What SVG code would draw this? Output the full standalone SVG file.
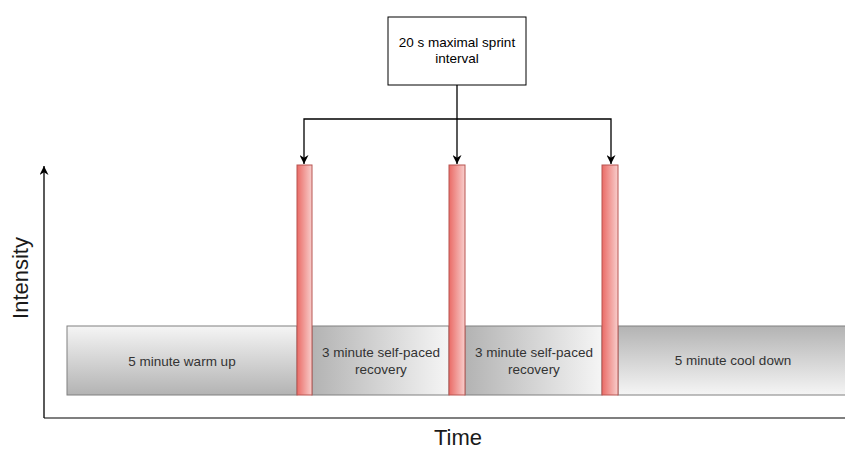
<svg xmlns="http://www.w3.org/2000/svg" width="845" height="450" viewBox="0 0 845 450">
<style>
  .lbl { font-family: "Liberation Sans", Arial, sans-serif; font-size: 13.5px; fill: #333333; text-anchor: middle; }
  .axis-lbl { font-family: "Liberation Sans", Arial, sans-serif; font-size: 22px; fill: #1a1a1a; text-anchor: middle; }
  .phase { stroke: #808080; stroke-width: 1; }
  .bar { fill: url(#gRed); stroke: #b85450; stroke-width: 1; }
  .conn { fill: none; stroke: #000000; stroke-width: 1.3; }
  .axis { fill: none; stroke: #555555; stroke-width: 1.6; }
</style>
<defs>
  <linearGradient id="gDown" x1="0" y1="0" x2="0" y2="1">
    <stop offset="0" stop-color="#f5f5f5"/>
    <stop offset="1" stop-color="#b3b3b3"/>
  </linearGradient>
  <linearGradient id="gUp" x1="0" y1="0" x2="0" y2="1">
    <stop offset="0" stop-color="#b3b3b3"/>
    <stop offset="1" stop-color="#f5f5f5"/>
  </linearGradient>
  <linearGradient id="gRight" x1="0" y1="0" x2="1" y2="0">
    <stop offset="0" stop-color="#b3b3b3"/>
    <stop offset="1" stop-color="#f5f5f5"/>
  </linearGradient>
  <linearGradient id="gRed" x1="0" y1="0" x2="1" y2="0">
    <stop offset="0" stop-color="#ea6b66"/>
    <stop offset="1" stop-color="#f8cecc"/>
  </linearGradient>
  <marker id="arr" viewBox="0 0 10 10" refX="10" refY="5" markerWidth="9" markerHeight="9" markerUnits="userSpaceOnUse" orient="auto">
    <path d="M0,0 L10,5 L0,10 L3,5 Z" fill="#000000"/>
  </marker>
</defs>
<rect width="845" height="450" fill="#ffffff"/>

<g id="axes">
  <path class="axis" d="M44,418 L845,418"/>
  <path d="M44,418 L44,166" fill="none" stroke="#000000" stroke-width="1.3" marker-end="url(#arr)"/>
  <text class="axis-lbl" x="21" y="278" transform="rotate(-90 21 278)" dy="7">Intensity</text>
  <text class="axis-lbl" x="458" y="445">Time</text>
</g>

<g id="warmup">
  <rect class="phase" x="67" y="326" width="230" height="69" fill="url(#gDown)"/>
  <text class="lbl" x="182" y="366">5 minute warm up</text>
</g>
<g id="recovery1">
  <rect class="phase" x="312" y="326" width="137" height="69" fill="url(#gRight)"/>
  <text class="lbl" x="381" y="357">3 minute self-paced</text>
  <text class="lbl" x="381" y="374">recovery</text>
</g>
<g id="recovery2">
  <rect class="phase" x="465" y="326" width="137" height="69" fill="url(#gRight)"/>
  <text class="lbl" x="534" y="357">3 minute self-paced</text>
  <text class="lbl" x="534" y="374">recovery</text>
</g>
<g id="cooldown">
  <rect class="phase" x="618" y="326" width="230" height="69" fill="url(#gUp)"/>
  <text class="lbl" x="733" y="365">5 minute cool down</text>
</g>

<g id="sprint1"><rect class="bar" x="297" y="165" width="15" height="230"/></g>
<g id="sprint2"><rect class="bar" x="449" y="165" width="16" height="230"/></g>
<g id="sprint3"><rect class="bar" x="602" y="165" width="16" height="230"/></g>

<g id="sprintBox">
  <rect x="388" y="17" width="138" height="68" fill="#ffffff" stroke="#000000" stroke-width="1"/>
  <text class="lbl" x="457" y="47" style="fill:#000000">20 s maximal sprint</text>
  <text class="lbl" x="457" y="63" style="fill:#000000">interval</text>
</g>

<g id="connectors">
  <path class="conn" d="M457,85 L457,164" marker-end="url(#arr)"/>
  <path class="conn" d="M457,119 L304,119 L304,164" marker-end="url(#arr)"/>
  <path class="conn" d="M457,119 L611,119 L611,164" marker-end="url(#arr)"/>
</g>
</svg>
